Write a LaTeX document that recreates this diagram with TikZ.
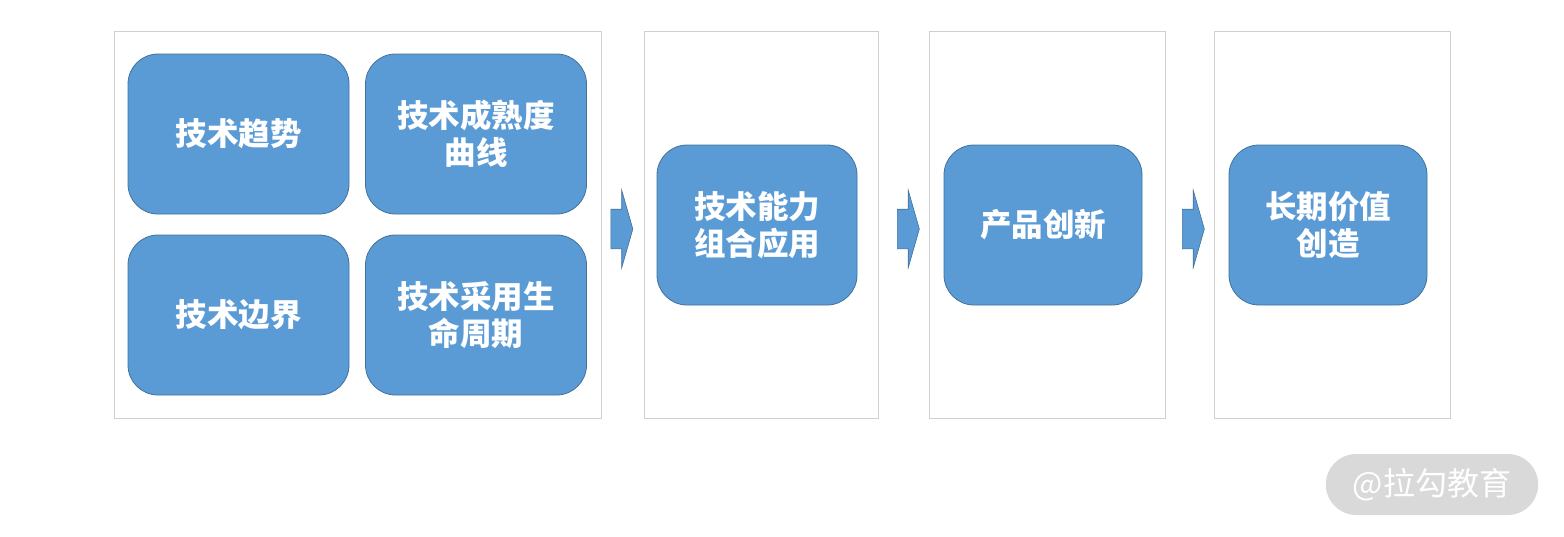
\documentclass[tikz,border=0pt]{standalone}
\usepackage{fontspec}
\newfontfamily\cjk{Noto Sans CJK SC}
\usetikzlibrary{shapes.arrows,shapes.misc}
\definecolor{boxblue}{HTML}{5B9BD5}
\definecolor{boxedge}{HTML}{41719C}
\definecolor{framegray}{HTML}{D0D0D0}
\definecolor{markgray}{HTML}{D9D9D9}

\begin{document}
\begin{tikzpicture}[x=1pt,y=-1pt]
			\tikzstyle{frame}=[draw=framegray,line width=1pt,minimum height=387pt,inner sep=0pt]
			\tikzstyle{o}=[draw=boxedge,fill=boxblue,line width=0.8pt,rounded corners=30pt,
				minimum height=160pt,text=white,align=center,
				font=\cjk\bfseries\fontsize{31.5}{37}\selectfont]
			\tikzstyle{flow}=[single arrow,draw=boxedge,fill=boxblue,line width=0.6pt,
				inner xsep=0pt,inner ysep=19.5pt,minimum height=22pt,
				single arrow head extend=19pt,single arrow tip angle=148]
				\useasboundingbox (0,0) rectangle (1564,536);
				% frames
				\node [frame,minimum width=487pt] (f1) at (357.5,224.5) {};
				\node [frame,minimum width=234pt] (f2) at (761,224.5) {};
				\node [frame,minimum width=236pt] (f3) at (1047,224.5) {};
				\node [frame,minimum width=236pt] (f4) at (1332,224.5) {};
				% boxes
				\node [o,minimum width=221pt] (trend) at (238.5,134) {技术趋势};
				\node [o,minimum width=221pt] (hype) at (476,134) {技术成熟度\\曲线};
				\node [o,minimum width=221pt] (bound) at (238.5,315) {技术边界};
				\node [o,minimum width=221pt] (life) at (476,315) {技术采用生\\命周期};
				\node [o,minimum width=200pt] (apply) at (757,225) {技术能力\\组合应用};
				\node [o,minimum width=198pt] (innov) at (1043,225) {产品创新};
				\node [o,minimum width=198pt] (value) at (1328,225) {长期价值\\创造};
				% arrows
				\node [flow] (a1) at (619,229) {};
				\node [flow] (a2) at (905.5,229) {};
				\node [flow] (a3) at (1190.5,229) {};
				% watermark
				\node [rounded rectangle,fill=markgray,minimum width=219pt,minimum height=61pt,
					text=white,font=\cjk\fontsize{32}{32}\selectfont] (mark) at (1432,484.5) {@拉勾教育};
	\end{tikzpicture}
\end{document}
